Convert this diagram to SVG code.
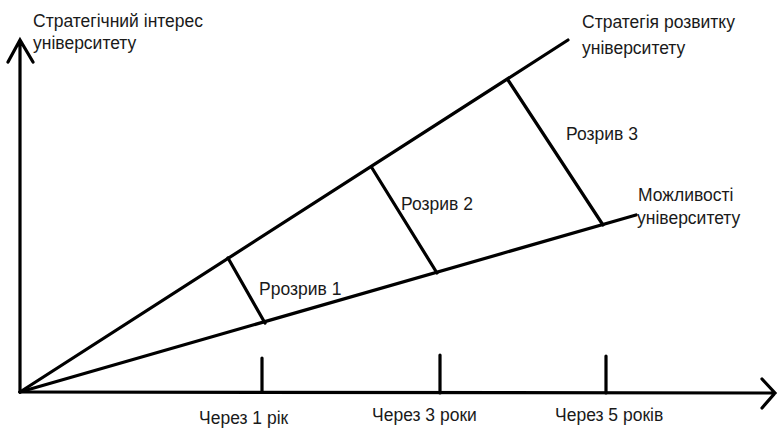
<svg xmlns="http://www.w3.org/2000/svg" width="778" height="428" viewBox="0 0 778 428">
<style>
.ln{stroke:#000;stroke-width:3.2;fill:none;stroke-linecap:round}
.t{font-family:"Liberation Sans",Arial,sans-serif;font-size:17.5px;fill:#1a1a1a}
</style>
<rect width="778" height="428" fill="#fff"/>
<g id="axes">
<path class="ln" d="M20 392 L20 40 M8 62 L20 40 L33 62"/>
<path class="ln" d="M20 392 L775 393 M762 379 L775 393 L762 408"/>
<text class="t" x="33" y="27">Стратегічний інтерес</text>
<text class="t" x="33" y="49">університету</text>
</g>
<g id="ticks">
<path class="ln" d="M262 358 L262 392 M440 355 L440 393 M606 356 L606 393"/>
<text class="t" x="199" y="423.5">Через 1 рік</text>
<text class="t" x="372" y="421">Через 3 роки</text>
<text class="t" x="555" y="421">Через 5 років</text>
</g>
<g id="strategy">
<path class="ln" d="M20 392 L568 40"/>
<text class="t" x="582" y="28">Стратегія розвитку</text>
<text class="t" x="582" y="54">університету</text>
</g>
<g id="opportunities">
<path class="ln" d="M20 392 L636 215"/>
<text class="t" x="638" y="201">Можливості</text>
<text class="t" x="637" y="224">університету</text>
</g>
<g id="connectors">
<path class="ln" d="M228 258 L265 323"/>
<path class="ln" d="M372 168 L437 273"/>
<path class="ln" d="M508 80 L603 225"/>
</g>
<g id="labels">
<text class="t" x="259" y="295">Ррозрив 1</text>
<text class="t" x="401" y="210">Розрив 2</text>
<text class="t" x="566" y="140">Розрив 3</text>
</g>
</svg>
